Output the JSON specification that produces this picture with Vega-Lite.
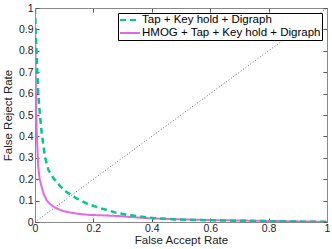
{
  "$schema": "https://vega.github.io/schema/vega-lite/v6.json",
  "width": 292,
  "height": 214,
  "autosize": {"type": "none"},
  "padding": {"left": 35, "top": 8, "right": 5, "bottom": 27},
  "background": "white",
  "config": {
    "font": "Liberation Sans",
    "view": {"stroke": "#888888", "strokeWidth": 1},
    "axis": {
      "grid": false,
      "domainColor": "#888888",
      "tickColor": "#555555",
      "tickSize": -4,
      "labelColor": "#222222",
      "labelFontSize": 10.5,
      "titleColor": "#222222",
      "titleFontSize": 11.5,
      "titleFontWeight": "normal",
      "labelFlush": false,
      "labelOverlap": false
    },
    "legend": {
      "labelFont": "Liberation Sans",
      "labelFontSize": 11.5,
      "labelColor": "#000000",
      "labelLimit": 400
    }
  },
  "datasets": {
    "curves": [
      {"series": "HMOG + Tap + Key hold + Digraph", "far": 0, "frr": 1},
      {"series": "HMOG + Tap + Key hold + Digraph", "far": 0.001, "frr": 0.88},
      {"series": "HMOG + Tap + Key hold + Digraph", "far": 0.002, "frr": 0.72},
      {"series": "HMOG + Tap + Key hold + Digraph", "far": 0.004, "frr": 0.53},
      {"series": "HMOG + Tap + Key hold + Digraph", "far": 0.006, "frr": 0.415},
      {"series": "HMOG + Tap + Key hold + Digraph", "far": 0.011, "frr": 0.26},
      {"series": "HMOG + Tap + Key hold + Digraph", "far": 0.016, "frr": 0.2},
      {"series": "HMOG + Tap + Key hold + Digraph", "far": 0.023, "frr": 0.163},
      {"series": "HMOG + Tap + Key hold + Digraph", "far": 0.03, "frr": 0.13},
      {"series": "HMOG + Tap + Key hold + Digraph", "far": 0.04, "frr": 0.102},
      {"series": "HMOG + Tap + Key hold + Digraph", "far": 0.05, "frr": 0.086},
      {"series": "HMOG + Tap + Key hold + Digraph", "far": 0.063, "frr": 0.072},
      {"series": "HMOG + Tap + Key hold + Digraph", "far": 0.08, "frr": 0.06},
      {"series": "HMOG + Tap + Key hold + Digraph", "far": 0.097, "frr": 0.051},
      {"series": "HMOG + Tap + Key hold + Digraph", "far": 0.125, "frr": 0.043},
      {"series": "HMOG + Tap + Key hold + Digraph", "far": 0.154, "frr": 0.037},
      {"series": "HMOG + Tap + Key hold + Digraph", "far": 0.188, "frr": 0.033},
      {"series": "HMOG + Tap + Key hold + Digraph", "far": 0.23, "frr": 0.031},
      {"series": "HMOG + Tap + Key hold + Digraph", "far": 0.285, "frr": 0.028},
      {"series": "HMOG + Tap + Key hold + Digraph", "far": 0.34, "frr": 0.022},
      {"series": "HMOG + Tap + Key hold + Digraph", "far": 0.4, "frr": 0.017},
      {"series": "HMOG + Tap + Key hold + Digraph", "far": 0.5, "frr": 0.012},
      {"series": "HMOG + Tap + Key hold + Digraph", "far": 0.6, "frr": 0.009},
      {"series": "HMOG + Tap + Key hold + Digraph", "far": 0.7, "frr": 0.007},
      {"series": "HMOG + Tap + Key hold + Digraph", "far": 0.8, "frr": 0.005},
      {"series": "HMOG + Tap + Key hold + Digraph", "far": 0.9, "frr": 0.003},
      {"series": "HMOG + Tap + Key hold + Digraph", "far": 1, "frr": 0.001},
      {"series": "Tap + Key hold + Digraph", "far": 0, "frr": 1},
      {"series": "Tap + Key hold + Digraph", "far": 0.002, "frr": 0.9},
      {"series": "Tap + Key hold + Digraph", "far": 0.005, "frr": 0.8},
      {"series": "Tap + Key hold + Digraph", "far": 0.008, "frr": 0.7},
      {"series": "Tap + Key hold + Digraph", "far": 0.011, "frr": 0.6},
      {"series": "Tap + Key hold + Digraph", "far": 0.017, "frr": 0.5},
      {"series": "Tap + Key hold + Digraph", "far": 0.023, "frr": 0.415},
      {"series": "Tap + Key hold + Digraph", "far": 0.034, "frr": 0.305},
      {"series": "Tap + Key hold + Digraph", "far": 0.046, "frr": 0.243},
      {"series": "Tap + Key hold + Digraph", "far": 0.063, "frr": 0.205},
      {"series": "Tap + Key hold + Digraph", "far": 0.086, "frr": 0.168},
      {"series": "Tap + Key hold + Digraph", "far": 0.108, "frr": 0.14},
      {"series": "Tap + Key hold + Digraph", "far": 0.143, "frr": 0.11},
      {"series": "Tap + Key hold + Digraph", "far": 0.18, "frr": 0.085},
      {"series": "Tap + Key hold + Digraph", "far": 0.22, "frr": 0.066},
      {"series": "Tap + Key hold + Digraph", "far": 0.274, "frr": 0.045},
      {"series": "Tap + Key hold + Digraph", "far": 0.32, "frr": 0.032},
      {"series": "Tap + Key hold + Digraph", "far": 0.41, "frr": 0.018},
      {"series": "Tap + Key hold + Digraph", "far": 0.48, "frr": 0.012},
      {"series": "Tap + Key hold + Digraph", "far": 0.6, "frr": 0.008},
      {"series": "Tap + Key hold + Digraph", "far": 0.7, "frr": 0.006},
      {"series": "Tap + Key hold + Digraph", "far": 0.8, "frr": 0.004},
      {"series": "Tap + Key hold + Digraph", "far": 0.9, "frr": 0.002},
      {"series": "Tap + Key hold + Digraph", "far": 1, "frr": 0.001}
    ],
    "diag": [
      {"far": 0, "frr": 0},
      {"far": 1, "frr": 1}
    ]
  },
  "layer": [
    {
      "data": {"name": "diag"},
      "mark": {"type": "line", "color": "#444444", "strokeWidth": 0.8, "strokeDash": [1, 2], "clip": true},
      "encoding": {
        "x": {
          "field": "far", "type": "quantitative",
          "scale": {"domain": [0, 1], "nice": false},
          "axis": {"values": [0, 0.2, 0.4, 0.6, 0.8, 1], "format": "~g", "title": "False Accept Rate", "orient": "bottom", "labelPadding": 5, "titlePadding": 1}
        },
        "y": {
          "field": "frr", "type": "quantitative",
          "scale": {"domain": [0, 1], "nice": false},
          "axis": {"values": [0, 0.1, 0.2, 0.3, 0.4, 0.5, 0.6, 0.7, 0.8, 0.9, 1], "format": "~g", "title": "False Reject Rate", "orient": "left", "labelPadding": 6, "titlePadding": 5}
        }
      }
    },
    {
      "data": {"name": "diag"},
      "mark": {"type": "line", "opacity": 0},
      "encoding": {
        "x": {
          "field": "far", "type": "quantitative",
          "scale": {"domain": [0, 1], "nice": false},
          "axis": {"values": [0, 0.2, 0.4, 0.6, 0.8, 1], "labels": false, "title": null, "orient": "top"}
        },
        "y": {
          "field": "frr", "type": "quantitative",
          "scale": {"domain": [0, 1], "nice": false},
          "axis": {"values": [0, 0.1, 0.2, 0.3, 0.4, 0.5, 0.6, 0.7, 0.8, 0.9, 1], "labels": false, "title": null, "orient": "right"}
        }
      }
    },
    {
      "data": {"name": "curves"},
      "transform": [{"filter": "datum.series == 'HMOG + Tap + Key hold + Digraph'"}],
      "mark": {"type": "line", "strokeWidth": 2, "clip": true},
      "encoding": {
        "x": {"field": "far", "type": "quantitative", "axis": null},
        "y": {"field": "frr", "type": "quantitative", "axis": null},
        "color": {
          "field": "series", "type": "nominal",
          "scale": {"domain": ["Tap + Key hold + Digraph", "HMOG + Tap + Key hold + Digraph"], "range": ["#00c98a", "#e468e6"]},
          "legend": {
            "title": null,
            "orient": "top-right",
            "offset": 5,
            "fillColor": "white",
            "strokeColor": "#000000",
            "padding": 1,
            "rowPadding": 1,
            "symbolType": "M-1,0H3",
            "symbolSize": 100,
            "symbolStrokeWidth": 2,
            "labelOffset": 11
          }
        },
        "strokeDash": {
          "field": "series", "type": "nominal",
          "scale": {"domain": ["Tap + Key hold + Digraph", "HMOG + Tap + Key hold + Digraph"], "range": [[6, 4], [1, 0]]},
          "legend": null
        }
      }
    },
    {
      "data": {"name": "curves"},
      "transform": [{"filter": "datum.series == 'Tap + Key hold + Digraph'"}],
      "mark": {"type": "line", "strokeWidth": 2.5, "clip": true},
      "encoding": {
        "x": {"field": "far", "type": "quantitative", "axis": null},
        "y": {"field": "frr", "type": "quantitative", "axis": null},
        "color": {"field": "series", "type": "nominal"},
        "strokeDash": {"field": "series", "type": "nominal"}
      }
    }
  ],
  "resolve": {"axis": {"x": "independent", "y": "independent"}}
}
